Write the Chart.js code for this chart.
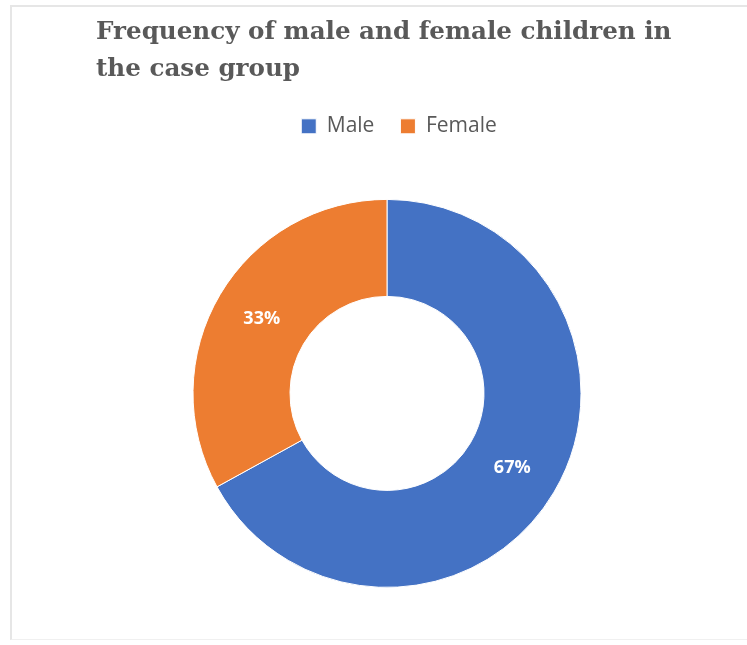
<!DOCTYPE html>
<html>
<head>
    <script src="https://cdn.jsdelivr.net/npm/chart.js@4.4.0/dist/chart.umd.min.js"></script>
    <style>
        body { margin: 0; background: #fff; overflow: hidden; }
        .frame {
            position: absolute; left: 10px; top: 5px; width: 745px; height: 632px;
            border-top: 2px solid #e6e6e6; border-left: 2px solid #e6e6e6; border-bottom: 1px solid #f0f0f0;
        }
        .chartBox { position: absolute; left: 12px; top: 7px; width: 735px; height: 640px; }
    </style>
</head>
<body>
<div class="frame"></div>
<div class="chartBox">
    <canvas id="myChart"></canvas>
</div>

<script>
    // data
    const categories = ['Male', 'Female'];
    const percentages = [67, 33];
    const sliceColors = ['#4472C4', '#ED7D31'];
    const titleLines = ['Frequency of male and female children in', 'the case group'];

    // percent labels in the middle of each ring segment
    const sliceLabels = {
        id: 'sliceLabels',
        afterLayout(chart) {
            // legend sits a little right of the ring centre in the original
            chart.legend.left += 12;
            chart.legend.right += 12;
        },
        afterDatasetsDraw(chart) {
            const ctx = chart.ctx;
            const meta = chart.getDatasetMeta(0);
            ctx.save();
            ctx.font = 'bold 18px "Open Sans"';
            ctx.fillStyle = '#ffffff';
            ctx.textAlign = 'center';
            ctx.textBaseline = 'middle';
            meta.data.forEach((arc, i) => {
                const pos = arc.tooltipPosition();
                ctx.fillText(percentages[i] + '%', pos.x, pos.y);
            });
            ctx.restore();
        }
    };

    const config = {
        type: 'doughnut',
        data: {
            labels: categories,
            datasets: [{
                data: percentages,
                backgroundColor: sliceColors,
                borderColor: '#ffffff',
                borderWidth: 1
            }]
        },
        options: {
            responsive: true,
            maintainAspectRatio: false,
            animation: false,
            radius: 194,
            cutout: '50%',
            layout: { padding: { left: 84, right: 69, top: 7, bottom: 7 } },
            plugins: {
                title: {
                    display: true,
                    text: titleLines,
                    align: 'start',
                    color: '#595959',
                    font: { family: '"DejaVu Serif"', size: 24.6, weight: 'bold', lineHeight: 1.5 },
                    padding: { top: 0, bottom: 2 }
                },
                legend: {
                    position: 'top',
                    labels: {
                        color: '#595959',
                        boxWidth: 15,
                        boxHeight: 15,
                        padding: 26,
                        font: { family: '"Open Sans"', size: 21 }
                    }
                },
                tooltip: { enabled: false }
            }
        },
        plugins: [sliceLabels]
    };

    const myChart = new Chart(document.getElementById('myChart'), config);
</script>
</body>
</html>
